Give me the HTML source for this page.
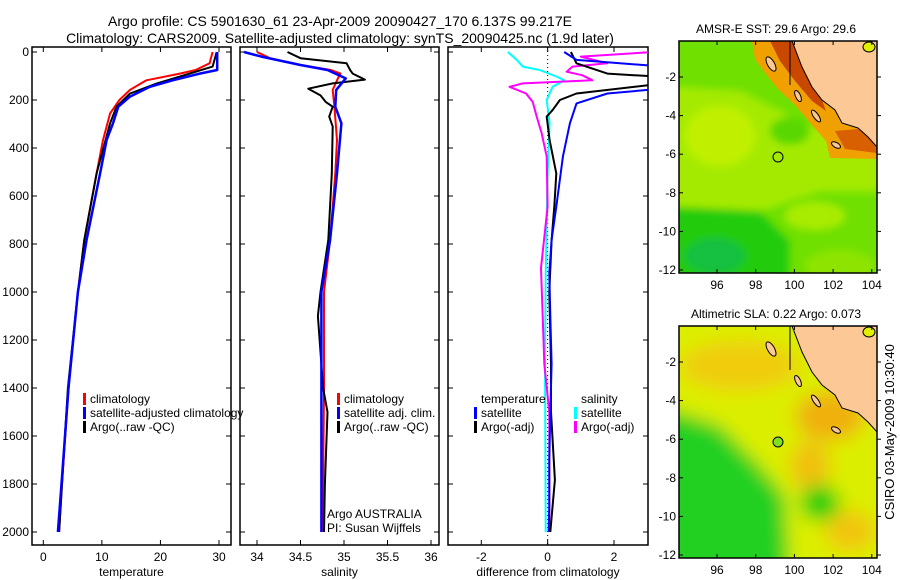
<!DOCTYPE html>
<html><head><meta charset="utf-8"><style>
body{margin:0;background:#fff;}
svg{display:block;font-family:"Liberation Sans",sans-serif;}
</style></head><body>
<svg id="chart" width="900" height="580" viewBox="0 0 900 580">
<defs>
<filter id="blur-sst" x="-10%" y="-10%" width="120%" height="120%"><feGaussianBlur stdDeviation="4"/></filter>
<filter id="blur-sla" x="-10%" y="-10%" width="120%" height="120%"><feGaussianBlur stdDeviation="9"/></filter>
</defs>
<g id="titles">
<text x="340" y="26" font-size="14" text-anchor="middle">Argo profile: CS 5901630_61 23-Apr-2009 20090427_170 6.137S 99.217E</text>
<text x="340" y="43" font-size="14" text-anchor="middle">Climatology: CARS2009. Satellite-adjusted climatology: synTS_20090425.nc (1.9d later)</text>
</g>
<g id="maps"></g>
<g id="panels"></g>
<text transform="translate(894,432) rotate(-90)" font-size="13" text-anchor="middle">CSIRO 03-May-2009 10:30:40</text>
</svg>
<script>
// ---- data ----
const tempDepthClim = [0,47,75,90,118,158,200,256,367,506,783,1000,1400,1800,2000];
const tempClim      = [28.9,28.4,26,23.3,17.6,14.8,13,11.4,10.2,9.1,7,5.9,4.3,3.2,2.7];
const tempDepthSat  = [0,75,90,118,145,186,228,297,367,506,783,1000,1400,1800,2000];
const tempSat       = [29.7,29.7,26.7,22.1,18.2,14.8,12.8,11.9,10.8,9.7,7.4,5.9,4.3,3.1,2.5];
const tempDepthArgo = [0,61,90,131,173,228,297,506,783,1000,1400,1800,2000];
const tempArgo      = [29.6,28.9,25,19.4,14.8,12.5,11.4,9.1,7,5.9,4.2,3.2,2.7];

const salDepthClim = [0,26,54,75,90,110,158,228,367,506,783,1000,1400,1800,2000];
const salClim      = [34.0,34.15,34.5,34.85,34.96,34.93,34.87,34.89,34.92,34.9,34.84,34.77,34.77,34.76,34.76];
const salDepthSat  = [0,19,54,75,110,158,228,297,506,783,1000,1400,1800,2000];
const salSat       = [33.85,34.05,34.5,34.81,35.02,34.91,34.9,34.97,34.92,34.84,34.74,34.74,34.74,34.74];
const salDepthArgo = [0,26,47,75,90,115,131,153,181,208,228,269,311,506,783,1000,1100,1400,1500,1800,2000];
const salArgo      = [34.35,34.5,35.03,35.07,35.1,35.24,34.87,34.59,34.73,34.79,34.87,34.83,34.87,34.86,34.82,34.73,34.7,34.76,34.81,34.78,34.77];

const diffDepthTS = [0,33,61,90,152,173,214,297,436,644,783,922,1100,1300,1500,1700,1900,2000];
const diffTSat    = [0.5,0.87,3.5,3.5,3.5,1.8,0.87,0.67,0.46,0.26,0.12,0.05,0.08,0.12,0.08,0.05,0.05,0.03];
const diffDepthTA = [0,47,90,104,131,173,200,242,269,367,506,644,783,1000,1300,1500,1783,2000];
const diffTArgo   = [0.7,0.87,1.8,3.5,3.5,0.87,0.37,0.15,-0.03,0.06,0.26,0.2,0.12,0.05,0.1,0.1,0.22,0.08];
const diffDepthSS = [0,33,61,75,104,118,145,200,297,506,922,1300,1600,2000];
const diffSSat    = [-1.2,-0.93,-0.75,-0.24,0.3,0.5,0.15,-0.03,0.06,0.0,-0.06,-0.08,-0.07,-0.06];
const diffDepthSA = [0,19,47,61,82,97,118,131,145,173,208,269,339,436,644,900,1100,1300,1500,1800,2000];
const diffSArgo   = [3.2,1.0,1.8,0.75,0.57,1.05,1.35,-0.75,-1.15,-0.65,-0.45,-0.33,-0.18,-0.03,0.0,-0.2,-0.15,-0.1,0.05,0.05,0.05];

const tempTicks = [0,10,20,30];
const salTicks  = [34,34.5,35,35.5,36];
const diffTicks = [-2,0,2];
const depthTicks = [0,200,400,600,800,1000,1200,1400,1600,1800,2000];
const lonTicks = [96,98,100,102,104];
const latTicks = [-2,-4,-6,-8,-10,-12];

const NS='http://www.w3.org/2000/svg';
function mk(tag,attrs,parent){const e=document.createElementNS(NS,tag);for(const k in attrs)e.setAttribute(k,attrs[k]);if(parent)parent.appendChild(e);return e;}
const yDepth = d => 52 + d*0.24;
const panelsG = document.getElementById('panels');
const panelTop=47, panelBot=545;

function makePanel(name, x0, x1, vx0, px0, vx1, px1, ticks, xlabel, showDepthLabels){
  const g = mk('g',{},panelsG);
  
  
  const sx = v => px0 + (v-vx0)*(px1-px0)/(vx1-vx0);
  const clip = mk('clipPath',{id:'clip-'+name},g);
  mk('rect',{x:x0,y:panelTop,width:x1-x0,height:panelBot-panelTop},clip);
  const frame = mk('rect',{x:x0,y:panelTop,width:x1-x0,height:panelBot-panelTop,fill:'none',stroke:'#000','stroke-width':1.5},g);
  
  
  ticks.forEach(t=>{
    const x=sx(t);
    mk('line',{x1:x,x2:x,y1:panelBot,y2:panelBot-5,stroke:'#000'},g);
    mk('line',{x1:x,x2:x,y1:panelTop,y2:panelTop+5,stroke:'#000'},g);
    const tl = mk('text',{x:x,y:panelBot+16,'font-size':12,'text-anchor':'middle'},g);
    tl.textContent = t;
    
    
  });
  depthTicks.forEach(d=>{
    const y=yDepth(d);
    mk('line',{x1:x0,x2:x0+5,y1:y,y2:y,stroke:'#000'},g);
    mk('line',{x1:x1,x2:x1-5,y1:y,y2:y,stroke:'#000'},g);
    if(showDepthLabels){
      const tl = mk('text',{x:x0-3,y:y+4,'font-size':12,'text-anchor':'end'},g);
      tl.textContent = d;
      
      
    }
  });
  const xl = mk('text',{x:(x0+x1)/2,y:576,'font-size':12,'text-anchor':'middle'},g);
  xl.textContent = xlabel;
  
  
  const lines = mk('g',{'clip-path':'url(#clip-'+name+')'},g);
  return {g, sx, lines};
}
function series(p, depths, vals, color, w, sname){
  const pts = depths.map((d,i)=>p.sx(vals[i]).toFixed(1)+','+yDepth(d).toFixed(1)).join(' ');
  const pl = mk('polyline',{points:pts,fill:'none',stroke:color,'stroke-width':w,'stroke-linejoin':'round'},p.lines);
  
  
}
function legend(p, x, y, color, label){
  if(color) mk('rect',{x:x,y:y-10,width:3,height:12,fill:color},p.g);
  const t = mk('text',{x:x+7,y:y,'font-size':12},p.g);
  t.textContent = label;
  
  
}

const p1 = makePanel('temperature-panel',32,231,0,43.3,30,219,tempTicks,'temperature',true);
series(p1,tempDepthClim,tempClim,'#f00',2,'temp-climatology-line');
series(p1,tempDepthArgo,tempArgo,'#000',2,'temp-argo-line');
series(p1,tempDepthSat,tempSat,'#00f',2.5,'temp-satellite-line');
legend(p1,83,403,'#f00','climatology');
legend(p1,83,417,'#00f','satellite-adjusted climatology');
legend(p1,83,431,'#000','Argo(..raw -QC)');

const p2 = makePanel('salinity-panel',240,439,34,257,36,431,salTicks,'salinity',false);
series(p2,salDepthClim,salClim,'#f00',2,'sal-climatology-line');
series(p2,salDepthArgo,salArgo,'#000',2,'sal-argo-line');
series(p2,salDepthSat,salSat,'#00f',2.5,'sal-satellite-line');
legend(p2,337,403,'#f00','climatology');
legend(p2,337,417,'#00f','satellite adj. clim.');
legend(p2,337,431,'#000','Argo(..raw -QC)');
{const t=mk('text',{x:327,y:518,'font-size':12},p2.g);t.textContent='Argo AUSTRALIA';
const t2=mk('text',{x:327,y:532,'font-size':12},p2.g);t2.textContent='PI: Susan Wijffels';}

const p3 = makePanel('difference-panel',448,648,-2,481.3,2,614,diffTicks,'difference from climatology',false);
mk('line',{x1:p3.sx(0),x2:p3.sx(0),y1:panelTop,y2:panelBot,stroke:'#000','stroke-dasharray':'1,3'},p3.lines);
series(p3,diffDepthSS,diffSSat,'#0ff',2,'sal-satellite-diff-line');
series(p3,diffDepthSA,diffSArgo,'#f0f',2,'sal-argo-diff-line');
series(p3,diffDepthTA,diffTArgo,'#000',2,'temp-argo-diff-line');
series(p3,diffDepthTS,diffTSat,'#00f',2,'temp-satellite-diff-line');
legend(p3,474,403,null,'temperature');
legend(p3,474,417,'#00f','satellite');
legend(p3,474,431,'#000','Argo(-adj)');
legend(p3,574,403,null,'salinity');
legend(p3,574,417,'#0ff','satellite');
legend(p3,574,431,'#f0f','Argo(-adj)');

// ---- maps ----
const mapsG = document.getElementById('maps');
function makeMap(name, top, title, kind){
  const g = mk('g',{},mapsG);
  
  
  const L=679,R=877,B=top+232, dy=top-41;
  const cid='mclip-'+name;
  const cp=mk('clipPath',{id:cid},g); mk('rect',{x:L,y:top,width:R-L,height:B-top},cp);
  const f=mk('g',{'clip-path':'url(#'+cid+')'},g);
  const bl=mk('g',{filter:'url(#blur-'+kind+')'},f);
  if(kind==='sst'){
    mk('rect',{x:L-20,y:top-20,width:240,height:280,fill:'#70e000'},bl);
    mk('polygon',{points:`${L-20},${top+45} 740,${top+50} 790,${top+75} 840,${top+95} 890,${top+115} 890,${top+150} 820,${top+150} 760,${top+170} ${L-20},${top+175}`,fill:'#a4ea00'},bl);
    mk('ellipse',{cx:720,cy:top+95,rx:35,ry:30,fill:'#c0f000'},bl);
    mk('polygon',{points:`${L-20},${top+165} 760,${top+170} 790,${top+200} 790,${top+260} ${L-20},${top+260}`,fill:'#22cc10'},bl);
    mk('ellipse',{cx:815,cy:top+175,rx:30,ry:14,fill:'#a8ec00'},bl);
    mk('ellipse',{cx:840,cy:top+225,rx:35,ry:16,fill:'#8ee400'},bl);
    mk('ellipse',{cx:715,cy:top+215,rx:30,ry:18,fill:'#18c040'},bl);
    mk('ellipse',{cx:790,cy:top+90,rx:20,ry:14,fill:'#58d800'},bl);
    // coastal warm band
    mk('polygon',{points:`752,${top} 792,${top} 802,${top+26} 812,${top+46} 822,${top+59} 835,${top+69} 842,${top+82} 858,${top+87} 868,${top+96} 877,${top+106} 877,${top+118} 830,${top+117} 826,${top+100} 812,${top+84} 795,${top+64} 778,${top+48} 765,${top+32} 755,${top+18}`,fill:'#f0a000'},f);
    mk('polygon',{points:`770,${top} 792,${top} 802,${top+26} 812,${top+46} 822,${top+59} 826,${top+70} 812,${top+60} 795,${top+40} 780,${top+20}`,fill:'#c84800'},f);
    mk('polygon',{points:`835,${top+90} 858,${top+88} 868,${top+96} 877,${top+106} 877,${top+112} 845,${top+108}`,fill:'#d86000'},f);
  } else {
    mk('rect',{x:L-20,y:top-20,width:240,height:280,fill:'#dcee00'},bl);
    mk('ellipse',{cx:740,cy:top+40,rx:60,ry:25,fill:'#f0cc10'},bl);
    mk('ellipse',{cx:830,cy:top+90,rx:35,ry:25,fill:'#f0b010'},bl);
    mk('ellipse',{cx:810,cy:top+140,rx:20,ry:25,fill:'#f0c010'},bl);
    mk('ellipse',{cx:850,cy:top+205,rx:25,ry:20,fill:'#f2c410'},bl);
    mk('polygon',{points:`${L-20},${top+80} 720,${top+100} 760,${top+140} 785,${top+170} 790,${top+260} ${L-20},${top+260}`,fill:'#20d020'},bl);
    mk('ellipse',{cx:820,cy:top+177,rx:20,ry:18,fill:'#10d010'},bl);
  }
  // land
  const land = mk('polygon',{points:`792,${top} 802,${top+26} 812,${top+46} 822,${top+59} 835,${top+69} 842,${top+82} 858,${top+87} 868,${top+96} 877,${top+106} 877,${top}`,fill:'#fcc896',stroke:'#000','stroke-width':1},f);
  
  
  mk('line',{x1:790,y1:top,x2:790,y2:top+44,stroke:'#000'},f);
  mk('ellipse',{cx:771,cy:top+23,rx:3.5,ry:8,transform:`rotate(-30 771 ${top+23})`,fill:'#fcc896',stroke:'#000'},f);
  mk('ellipse',{cx:798,cy:top+55,rx:2.5,ry:6,transform:`rotate(-25 798 ${top+55})`,fill:'#fcc896',stroke:'#000'},f);
  mk('ellipse',{cx:816,cy:top+75,rx:2.5,ry:7,transform:`rotate(-35 816 ${top+75})`,fill:'#fcc896',stroke:'#000'},f);
  mk('ellipse',{cx:836,cy:top+104,rx:5,ry:2.5,transform:`rotate(30 836 ${top+104})`,fill:'#fcc896',stroke:'#000'},f);
  mk('ellipse',{cx:869,cy:top+6,rx:6,ry:5,fill:'#e0f000',stroke:'#000'},f);
  // argo point
  const pt = mk('circle',{cx:778,cy:top+116,r:5,fill:kind==='sst'?'none':'#80e020',stroke:'#000'},g);
  
  
  mk('rect',{x:L,y:top,width:R-L,height:B-top,fill:'none',stroke:'#000','stroke-width':1.5},g);
  lonTicks.forEach(v=>{
    const x=717+(v-96)*19.35;
    mk('line',{x1:x,x2:x,y1:B,y2:B-4,stroke:'#000'},g);
    mk('line',{x1:x,x2:x,y1:top,y2:top+4,stroke:'#000'},g);
    const t=mk('text',{x:x,y:B+16,'font-size':12,'text-anchor':'middle'},g);t.textContent=v;
    
    
  });
  latTicks.forEach(v=>{
    const y=77+dy+(-2-v)*19.3;
    mk('line',{x1:L,x2:L+4,y1:y,y2:y,stroke:'#000'},g);
    mk('line',{x1:R,x2:R+4,y1:y,y2:y,stroke:'#000'},g);
    const t=mk('text',{x:L-3,y:y+4,'font-size':12,'text-anchor':'end'},g);t.textContent=v;
    
    
  });
  const tt=mk('text',{x:776,y:top-8,'font-size':12,'text-anchor':'middle'},g);tt.textContent=title;
  
  
}
makeMap('sst-map',41,'AMSR-E SST: 29.6 Argo: 29.6','sst');
makeMap('sla-map',326,'Altimetric SLA: 0.22 Argo: 0.073','sla');
</script>
</body></html>
